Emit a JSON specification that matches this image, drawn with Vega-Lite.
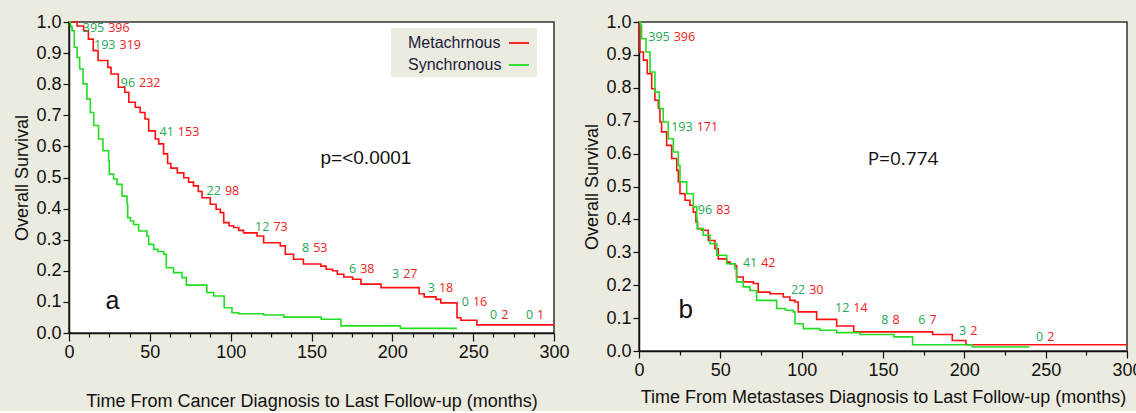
{
  "$schema": "https://vega.github.io/schema/vega-lite/v6.json",
  "background": "#ecebdf",
  "padding": {"left": 13, "top": 12, "right": 0, "bottom": 0},
  "spacing": 13,
  "config": {
    "view": {"fill": "white", "stroke": "#333333", "strokeWidth": 1.5},
    "axis": {
      "grid": false,
      "labelFont": "Liberation Sans",
      "labelFontSize": 18,
      "labelColor": "#111111",
      "titleFont": "Liberation Sans",
      "titleFontSize": 18,
      "titleFontWeight": "normal",
      "titleColor": "#111111",
      "domainColor": "#111111",
      "domainWidth": 1.5,
      "tickColor": "#111111",
      "tickWidth": 1.2,
      "labelFlush": false,
      "labelOverlap": false,
      "labelBound": false
    },
    "legend": {
      "orient": "none",
      "title": null,
      "symbolType": "stroke",
      "symbolStrokeWidth": 1.8,
      "symbolSize": 400,
      "labelFont": "Liberation Sans",
      "labelFontSize": 16,
      "labelColor": "#1a1a3a",
      "fillColor": "#ecebdf",
      "padding": 4,
      "rowPadding": 3,
      "labelLimit": 200
    }
  },
  "datasets": {
    "curvesA": [
      {"group": "Metachrnous", "t": 0, "s": 1.0},
      {"group": "Metachrnous", "t": 5, "s": 0.987},
      {"group": "Metachrnous", "t": 9, "s": 0.972},
      {"group": "Metachrnous", "t": 12, "s": 0.945},
      {"group": "Metachrnous", "t": 15, "s": 0.908},
      {"group": "Metachrnous", "t": 18, "s": 0.876},
      {"group": "Metachrnous", "t": 24, "s": 0.854},
      {"group": "Metachrnous", "t": 26, "s": 0.833},
      {"group": "Metachrnous", "t": 30.5, "s": 0.79},
      {"group": "Metachrnous", "t": 34.5, "s": 0.774},
      {"group": "Metachrnous", "t": 37, "s": 0.742},
      {"group": "Metachrnous", "t": 41, "s": 0.726},
      {"group": "Metachrnous", "t": 44, "s": 0.709},
      {"group": "Metachrnous", "t": 47, "s": 0.688},
      {"group": "Metachrnous", "t": 49.3, "s": 0.65},
      {"group": "Metachrnous", "t": 53.4, "s": 0.624},
      {"group": "Metachrnous", "t": 55.5, "s": 0.608},
      {"group": "Metachrnous", "t": 58.5, "s": 0.576},
      {"group": "Metachrnous", "t": 61, "s": 0.545},
      {"group": "Metachrnous", "t": 63, "s": 0.53},
      {"group": "Metachrnous", "t": 67, "s": 0.515},
      {"group": "Metachrnous", "t": 71, "s": 0.499},
      {"group": "Metachrnous", "t": 74, "s": 0.485},
      {"group": "Metachrnous", "t": 77, "s": 0.473},
      {"group": "Metachrnous", "t": 80, "s": 0.455},
      {"group": "Metachrnous", "t": 82.3, "s": 0.435},
      {"group": "Metachrnous", "t": 87.4, "s": 0.414},
      {"group": "Metachrnous", "t": 91, "s": 0.398},
      {"group": "Metachrnous", "t": 93.6, "s": 0.387},
      {"group": "Metachrnous", "t": 95.7, "s": 0.355},
      {"group": "Metachrnous", "t": 99, "s": 0.345},
      {"group": "Metachrnous", "t": 101.8, "s": 0.339},
      {"group": "Metachrnous", "t": 105, "s": 0.33},
      {"group": "Metachrnous", "t": 108, "s": 0.322},
      {"group": "Metachrnous", "t": 116.3, "s": 0.312},
      {"group": "Metachrnous", "t": 120.4, "s": 0.29},
      {"group": "Metachrnous", "t": 130.7, "s": 0.28},
      {"group": "Metachrnous", "t": 133.8, "s": 0.253},
      {"group": "Metachrnous", "t": 138.9, "s": 0.237},
      {"group": "Metachrnous", "t": 145, "s": 0.222},
      {"group": "Metachrnous", "t": 155.8, "s": 0.215},
      {"group": "Metachrnous", "t": 159, "s": 0.205},
      {"group": "Metachrnous", "t": 163, "s": 0.2},
      {"group": "Metachrnous", "t": 166, "s": 0.189},
      {"group": "Metachrnous", "t": 170, "s": 0.18},
      {"group": "Metachrnous", "t": 175.4, "s": 0.173},
      {"group": "Metachrnous", "t": 180.6, "s": 0.157},
      {"group": "Metachrnous", "t": 193, "s": 0.146},
      {"group": "Metachrnous", "t": 216.6, "s": 0.126},
      {"group": "Metachrnous", "t": 219.7, "s": 0.116},
      {"group": "Metachrnous", "t": 227, "s": 0.108},
      {"group": "Metachrnous", "t": 230, "s": 0.097},
      {"group": "Metachrnous", "t": 240, "s": 0.049},
      {"group": "Metachrnous", "t": 242.4, "s": 0.041},
      {"group": "Metachrnous", "t": 252.3, "s": 0.026},
      {"group": "Metachrnous", "t": 300, "s": 0.026},
      {"group": "Synchronous", "t": 0, "s": 1.0},
      {"group": "Synchronous", "t": 1, "s": 0.985},
      {"group": "Synchronous", "t": 1.9, "s": 0.972},
      {"group": "Synchronous", "t": 3.3, "s": 0.919},
      {"group": "Synchronous", "t": 5, "s": 0.886},
      {"group": "Synchronous", "t": 6.6, "s": 0.849},
      {"group": "Synchronous", "t": 8.7, "s": 0.801},
      {"group": "Synchronous", "t": 11.1, "s": 0.752},
      {"group": "Synchronous", "t": 13.2, "s": 0.709},
      {"group": "Synchronous", "t": 15.3, "s": 0.667},
      {"group": "Synchronous", "t": 18.3, "s": 0.624},
      {"group": "Synchronous", "t": 21, "s": 0.586},
      {"group": "Synchronous", "t": 24.5, "s": 0.554},
      {"group": "Synchronous", "t": 24.9, "s": 0.511},
      {"group": "Synchronous", "t": 27.6, "s": 0.495},
      {"group": "Synchronous", "t": 29.7, "s": 0.478},
      {"group": "Synchronous", "t": 32.8, "s": 0.44},
      {"group": "Synchronous", "t": 35.9, "s": 0.414},
      {"group": "Synchronous", "t": 36.3, "s": 0.371},
      {"group": "Synchronous", "t": 38, "s": 0.36},
      {"group": "Synchronous", "t": 40, "s": 0.349},
      {"group": "Synchronous", "t": 43.1, "s": 0.328},
      {"group": "Synchronous", "t": 48.2, "s": 0.312},
      {"group": "Synchronous", "t": 49.3, "s": 0.285},
      {"group": "Synchronous", "t": 52.4, "s": 0.269},
      {"group": "Synchronous", "t": 55, "s": 0.262},
      {"group": "Synchronous", "t": 58.6, "s": 0.253},
      {"group": "Synchronous", "t": 60.2, "s": 0.21},
      {"group": "Synchronous", "t": 64.7, "s": 0.194},
      {"group": "Synchronous", "t": 69.9, "s": 0.178},
      {"group": "Synchronous", "t": 72.6, "s": 0.154},
      {"group": "Synchronous", "t": 85.3, "s": 0.13},
      {"group": "Synchronous", "t": 89.5, "s": 0.119},
      {"group": "Synchronous", "t": 96, "s": 0.081},
      {"group": "Synchronous", "t": 100.8, "s": 0.065},
      {"group": "Synchronous", "t": 104.9, "s": 0.062},
      {"group": "Synchronous", "t": 120.4, "s": 0.058},
      {"group": "Synchronous", "t": 132.8, "s": 0.051},
      {"group": "Synchronous", "t": 156, "s": 0.044},
      {"group": "Synchronous", "t": 168.2, "s": 0.023},
      {"group": "Synchronous", "t": 205, "s": 0.015},
      {"group": "Synchronous", "t": 240, "s": 0.015}
    ],
    "curvesB": [
      {"group": "Metachrnous", "t": 0, "s": 1.0},
      {"group": "Metachrnous", "t": 0.5, "s": 0.909},
      {"group": "Metachrnous", "t": 2.7, "s": 0.884},
      {"group": "Metachrnous", "t": 5.1, "s": 0.843},
      {"group": "Metachrnous", "t": 7.8, "s": 0.797},
      {"group": "Metachrnous", "t": 9.8, "s": 0.762},
      {"group": "Metachrnous", "t": 11.9, "s": 0.737},
      {"group": "Metachrnous", "t": 12.9, "s": 0.696},
      {"group": "Metachrnous", "t": 13.9, "s": 0.666},
      {"group": "Metachrnous", "t": 17, "s": 0.625},
      {"group": "Metachrnous", "t": 20.1, "s": 0.585},
      {"group": "Metachrnous", "t": 23.2, "s": 0.549},
      {"group": "Metachrnous", "t": 24.2, "s": 0.514},
      {"group": "Metachrnous", "t": 25.2, "s": 0.478},
      {"group": "Metachrnous", "t": 28.3, "s": 0.458},
      {"group": "Metachrnous", "t": 31.3, "s": 0.443},
      {"group": "Metachrnous", "t": 33.4, "s": 0.422},
      {"group": "Metachrnous", "t": 35, "s": 0.392},
      {"group": "Metachrnous", "t": 36, "s": 0.372},
      {"group": "Metachrnous", "t": 38.5, "s": 0.367},
      {"group": "Metachrnous", "t": 42.6, "s": 0.336},
      {"group": "Metachrnous", "t": 46.7, "s": 0.311},
      {"group": "Metachrnous", "t": 48.7, "s": 0.28},
      {"group": "Metachrnous", "t": 53.9, "s": 0.27},
      {"group": "Metachrnous", "t": 56, "s": 0.265},
      {"group": "Metachrnous", "t": 59, "s": 0.26},
      {"group": "Metachrnous", "t": 60, "s": 0.225},
      {"group": "Metachrnous", "t": 64.1, "s": 0.21},
      {"group": "Metachrnous", "t": 70.3, "s": 0.205},
      {"group": "Metachrnous", "t": 73.3, "s": 0.179},
      {"group": "Metachrnous", "t": 80.5, "s": 0.174},
      {"group": "Metachrnous", "t": 88.7, "s": 0.164},
      {"group": "Metachrnous", "t": 92.8, "s": 0.154},
      {"group": "Metachrnous", "t": 95.9, "s": 0.149},
      {"group": "Metachrnous", "t": 97.9, "s": 0.119},
      {"group": "Metachrnous", "t": 109.2, "s": 0.096},
      {"group": "Metachrnous", "t": 121.5, "s": 0.076},
      {"group": "Metachrnous", "t": 132, "s": 0.058},
      {"group": "Metachrnous", "t": 180.5, "s": 0.05},
      {"group": "Metachrnous", "t": 192.6, "s": 0.032},
      {"group": "Metachrnous", "t": 201, "s": 0.019},
      {"group": "Metachrnous", "t": 300, "s": 0.019},
      {"group": "Synchronous", "t": 0, "s": 1.0},
      {"group": "Synchronous", "t": 1, "s": 0.99},
      {"group": "Synchronous", "t": 1.6, "s": 0.949},
      {"group": "Synchronous", "t": 4.3, "s": 0.909},
      {"group": "Synchronous", "t": 6.8, "s": 0.848},
      {"group": "Synchronous", "t": 9.8, "s": 0.787},
      {"group": "Synchronous", "t": 12.5, "s": 0.737},
      {"group": "Synchronous", "t": 14.9, "s": 0.696},
      {"group": "Synchronous", "t": 18, "s": 0.645},
      {"group": "Synchronous", "t": 21.1, "s": 0.605},
      {"group": "Synchronous", "t": 24.2, "s": 0.564},
      {"group": "Synchronous", "t": 25.2, "s": 0.514},
      {"group": "Synchronous", "t": 29.3, "s": 0.478},
      {"group": "Synchronous", "t": 33.4, "s": 0.438},
      {"group": "Synchronous", "t": 35.5, "s": 0.402},
      {"group": "Synchronous", "t": 35.8, "s": 0.372},
      {"group": "Synchronous", "t": 39.5, "s": 0.352},
      {"group": "Synchronous", "t": 43.6, "s": 0.326},
      {"group": "Synchronous", "t": 47.8, "s": 0.291},
      {"group": "Synchronous", "t": 53.9, "s": 0.265},
      {"group": "Synchronous", "t": 59, "s": 0.25},
      {"group": "Synchronous", "t": 60, "s": 0.21},
      {"group": "Synchronous", "t": 64.1, "s": 0.195},
      {"group": "Synchronous", "t": 68.2, "s": 0.184},
      {"group": "Synchronous", "t": 72.3, "s": 0.154},
      {"group": "Synchronous", "t": 84.6, "s": 0.129},
      {"group": "Synchronous", "t": 90, "s": 0.124},
      {"group": "Synchronous", "t": 94.8, "s": 0.119},
      {"group": "Synchronous", "t": 95.9, "s": 0.083},
      {"group": "Synchronous", "t": 101, "s": 0.068},
      {"group": "Synchronous", "t": 111.2, "s": 0.063},
      {"group": "Synchronous", "t": 121.5, "s": 0.056},
      {"group": "Synchronous", "t": 135.8, "s": 0.05},
      {"group": "Synchronous", "t": 156.7, "s": 0.043},
      {"group": "Synchronous", "t": 168.2, "s": 0.019},
      {"group": "Synchronous", "t": 204.9, "s": 0.012},
      {"group": "Synchronous", "t": 240, "s": 0.012}
    ],
    "riskA": [
      {"t": 23.0, "s": 0.982, "g": "395", "r": "396"},
      {"t": 30.0, "s": 0.926, "g": "193", "r": "319"},
      {"t": 42.1, "s": 0.803, "g": "96", "r": "232"},
      {"t": 66.1, "s": 0.647, "g": "41", "r": "153"},
      {"t": 95.2, "s": 0.457, "g": "22", "r": "98"},
      {"t": 125.2, "s": 0.342, "g": "12", "r": "73"},
      {"t": 149.8, "s": 0.274, "g": "8", "r": "53"},
      {"t": 178.9, "s": 0.207, "g": "6", "r": "38"},
      {"t": 205.5, "s": 0.189, "g": "3", "r": "27"},
      {"t": 227.6, "s": 0.144, "g": "3", "r": "18"},
      {"t": 248.6, "s": 0.101, "g": "0", "r": "16"},
      {"t": 266.1, "s": 0.058, "g": "0", "r": "2"},
      {"t": 288.3, "s": 0.058, "g": "0", "r": "1"}
    ],
    "riskB": [
      {"t": 20.1, "s": 0.954, "g": "395", "r": "396"},
      {"t": 34.2, "s": 0.681, "g": "193", "r": "171"},
      {"t": 46.2, "s": 0.428, "g": "96", "r": "83"},
      {"t": 73.9, "s": 0.267, "g": "41", "r": "42"},
      {"t": 103.4, "s": 0.184, "g": "22", "r": "30"},
      {"t": 130.5, "s": 0.131, "g": "12", "r": "14"},
      {"t": 154.6, "s": 0.093, "g": "8", "r": "8"},
      {"t": 177.3, "s": 0.093, "g": "6", "r": "7"},
      {"t": 202.4, "s": 0.06, "g": "3", "r": "2"},
      {"t": 249.7, "s": 0.043, "g": "0", "r": "2"}
    ],
    "notesA": [
      {"t": 183.7, "s": 0.564, "label": "p=<0.0001", "kind": "p"},
      {"t": 26.9, "s": 0.103, "label": "a", "kind": "letter"}
    ],
    "notesB": [
      {"t": 162.3, "s": 0.584, "label": "P=0.774", "kind": "p"},
      {"t": 28.8, "s": 0.126, "label": "b", "kind": "letter"}
    ]
  },
  "hconcat": [
    {
      "width": 485,
      "height": 311,
      "encoding": {
        "x": {
          "field": "t", "type": "quantitative",
          "scale": {"domain": [0, 300], "nice": false},
          "axis": {
            "values": [0, 12.5, 25, 37.5, 50, 62.5, 75, 87.5, 100, 112.5, 125, 137.5, 150, 162.5, 175, 187.5, 200, 212.5, 225, 237.5, 250, 262.5, 275, 287.5, 300],
            "labelExpr": "datum.value % 50 === 0 ? format(datum.value, 'd') : ''",
            "tickSize": {"condition": {"test": "datum.value % 50 === 0", "value": 8}, "value": 4},
            "labelPadding": 2,
            "labelOverlap": false,
            "title": "Time From Cancer Diagnosis to Last Follow-up (months)",
            "titlePadding": 31
          }
        },
        "y": {
          "field": "s", "type": "quantitative",
          "scale": {"domain": [0, 1], "nice": false},
          "axis": {
            "values": [0, 0.1, 0.2, 0.3, 0.4, 0.5, 0.6, 0.7, 0.8, 0.9, 1.0],
            "format": ".1f",
            "tickSize": 6,
            "labelPadding": 2,
            "labelOverlap": false,
            "title": "Overall Survival",
            "titlePadding": 4
          }
        }
      },
      "layer": [
        {
          "data": {"name": "curvesA"},
          "mark": {"type": "line", "interpolate": "step-after", "strokeWidth": 1.6},
          "encoding": {
            "color": {
              "field": "group", "type": "nominal",
              "scale": {"domain": ["Metachrnous", "Synchronous"], "range": ["#ff1010", "#22dd22"]},
              "legend": {
                "legendX": 322, "legendY": 6,
                "encode": {
                  "labels": {"update": {"x": {"value": 13}, "align": {"value": "left"}}},
                  "symbols": {"update": {"x": {"value": 124}}}
                }
              }
            }
          }
        },
        {
          "data": {"name": "riskA"},
          "mark": {"type": "text", "align": "right", "baseline": "middle", "dx": -2, "font": "Open Sans", "fontSize": 12.5, "color": "#1fa855"},
          "encoding": {"text": {"field": "g"}}
        },
        {
          "data": {"name": "riskA"},
          "mark": {"type": "text", "align": "left", "baseline": "middle", "dx": 2, "font": "Open Sans", "fontSize": 12.5, "color": "#f02020"},
          "encoding": {"text": {"field": "r"}}
        },
        {
          "data": {"name": "notesA"},
          "transform": [{"filter": "datum.kind === 'p'"}],
          "mark": {"type": "text", "align": "center", "baseline": "middle", "font": "Liberation Sans", "fontSize": 19, "color": "#111111"},
          "encoding": {"text": {"field": "label"}}
        },
        {
          "data": {"name": "notesA"},
          "transform": [{"filter": "datum.kind === 'letter'"}],
          "mark": {"type": "text", "align": "center", "baseline": "middle", "font": "Liberation Sans", "fontSize": 25, "color": "#111111"},
          "encoding": {"text": {"field": "label"}}
        }
      ]
    },
    {
      "width": 488,
      "height": 329,
      "encoding": {
        "x": {
          "field": "t", "type": "quantitative",
          "scale": {"domain": [0, 300], "nice": false},
          "axis": {
            "values": [0, 25, 50, 75, 100, 125, 150, 175, 200, 225, 250, 275, 300],
            "labelExpr": "datum.value % 50 === 0 ? format(datum.value, 'd') : ''",
            "tickSize": {"condition": {"test": "datum.value % 50 === 0", "value": 7}, "value": 4},
            "labelPadding": 3,
            "labelOverlap": false,
            "title": "Time From Metastases Diagnosis to Last Follow-up (months)",
            "titlePadding": 9
          }
        },
        "y": {
          "field": "s", "type": "quantitative",
          "scale": {"domain": [0, 1], "nice": false},
          "axis": {
            "values": [0, 0.1, 0.2, 0.3, 0.4, 0.5, 0.6, 0.7, 0.8, 0.9, 1.0],
            "format": ".1f",
            "tickSize": 6,
            "labelPadding": 2,
            "labelOverlap": false,
            "title": "Overall Survival",
            "titlePadding": 4
          }
        }
      },
      "layer": [
        {
          "data": {"name": "curvesB"},
          "mark": {"type": "line", "interpolate": "step-after", "strokeWidth": 1.6},
          "encoding": {
            "color": {
              "field": "group", "type": "nominal",
              "scale": {"domain": ["Metachrnous", "Synchronous"], "range": ["#ff1010", "#22dd22"]},
              "legend": {
                "legendX": 315, "legendY": 6,
                "encode": {
                  "labels": {"update": {"x": {"value": 13}, "align": {"value": "left"}}},
                  "symbols": {"update": {"x": {"value": 124}}}
                }
              }
            }
          }
        },
        {
          "data": {"name": "riskB"},
          "mark": {"type": "text", "align": "right", "baseline": "middle", "dx": -2, "font": "Open Sans", "fontSize": 12.5, "color": "#1fa855"},
          "encoding": {"text": {"field": "g"}}
        },
        {
          "data": {"name": "riskB"},
          "mark": {"type": "text", "align": "left", "baseline": "middle", "dx": 2, "font": "Open Sans", "fontSize": 12.5, "color": "#f02020"},
          "encoding": {"text": {"field": "r"}}
        },
        {
          "data": {"name": "notesB"},
          "transform": [{"filter": "datum.kind === 'p'"}],
          "mark": {"type": "text", "align": "center", "baseline": "middle", "font": "Open Sans", "fontSize": 19, "color": "#111111"},
          "encoding": {"text": {"field": "label"}}
        },
        {
          "data": {"name": "notesB"},
          "transform": [{"filter": "datum.kind === 'letter'"}],
          "mark": {"type": "text", "align": "center", "baseline": "middle", "font": "Liberation Sans", "fontSize": 26, "color": "#111111"},
          "encoding": {"text": {"field": "label"}}
        }
      ]
    }
  ]
}
